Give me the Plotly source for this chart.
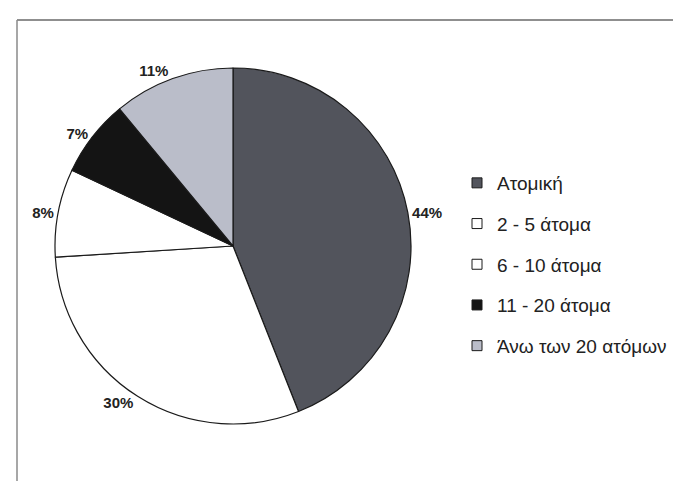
import plotly.graph_objects as go

categories = ["Ατομική", "2 - 5 άτομα", "6 - 10 άτομα", "11 - 20 άτομα", "Άνω των 20 ατόμων"]
values = [44, 30, 8, 7, 11]
colors = ["#52545c", "#ffffff", "#ffffff", "#141414", "#babdc9"]

W, H = 681, 481
cx, cy, r = 225, 238, 178

fig = go.Figure()
fig.add_trace(go.Pie(
    labels=categories,
    values=values,
    sort=False,
    direction="clockwise",
    rotation=0,
    marker=dict(colors=colors, line=dict(color="#1a1a1a", width=1.2)),
    texttemplate="%{percent:.0%}",
    textposition="outside",
    outsidetextfont=dict(family="Liberation Sans, Arial", size=15, color="#222222", weight="bold"),
    domain=dict(x=[(cx - r) / W, (cx + r) / W], y=[1 - (cy + r) / H, 1 - (cy - r) / H]),
    automargin=False,
    showlegend=False,
    hoverinfo="label+percent",
))

# legend entries (one group per category for wider spacing)
for i, (name, col) in enumerate(zip(categories, colors)):
    fig.add_trace(go.Scatter(
        x=[None], y=[None], mode="markers", name=name,
        legendgroup=f"g{i}",
        marker=dict(symbol="square", size=10, color=col, line=dict(color="#1a1a1a", width=1)),
        showlegend=True,
    ))

fig.update_layout(
    width=W, height=H,
    margin=dict(l=0, r=0, t=0, b=0),
    paper_bgcolor="white",
    plot_bgcolor="white",
    xaxis=dict(visible=False),
    yaxis=dict(visible=False),
    legend=dict(
        x=449 / W, y=1 - 156 / H, xanchor="left", yanchor="top",
        font=dict(family="Liberation Sans, Arial", size=19, color="#222222"),
        itemwidth=30, tracegroupgap=13,
        bgcolor="rgba(0,0,0,0)",
    ),
    shapes=[
        dict(type="line", xref="paper", yref="paper", x0=9 / W, x1=1, y0=1 - 12 / H, y1=1 - 12 / H,
             line=dict(color="#6a6a6a", width=1.5)),
        dict(type="line", xref="paper", yref="paper", x0=9 / W, x1=9 / W, y0=0, y1=1 - 12 / H,
             line=dict(color="#8a8a8a", width=1.5)),
    ],
)

fig.write_html("out.html")
